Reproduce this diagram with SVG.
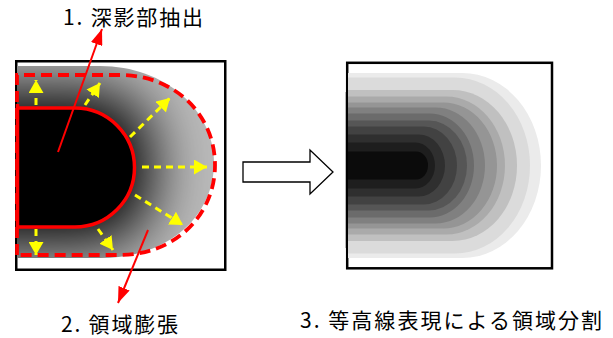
<svg xmlns="http://www.w3.org/2000/svg" width="613" height="338" viewBox="0 0 613 338">
  <style>
    .frame { fill: #ffffff; stroke: #000000; stroke-width: 2.5; }
    .label { font-family: "Noto Sans CJK JP", "Noto Sans", sans-serif; font-size: 21px; fill: #000000; }
    .red-solid { fill: none; stroke: #ff0000; stroke-width: 3.5; stroke-linejoin: round; }
    .red-dash { fill: none; stroke: #ff0000; stroke-width: 3.8; stroke-dasharray: 11 6; }
    .yellow { fill: none; stroke: #ffff00; stroke-width: 3; stroke-dasharray: 7 5; marker-end: url(#yhead); }
    .red-arrow { fill: none; stroke: #ff0000; stroke-width: 2; marker-end: url(#rhead); }
  </style>
  <defs>
    <marker id="yhead" markerUnits="userSpaceOnUse" viewBox="0 0 14 15" markerWidth="14" markerHeight="15" refX="13" refY="7.5" orient="auto">
      <path d="M0,0 L13,7.5 L0,15 Z" fill="#ffff00"/>
    </marker>
    <marker id="rhead" markerUnits="userSpaceOnUse" viewBox="0 0 16 12" markerWidth="16" markerHeight="12" refX="16" refY="6" orient="auto">
      <path d="M0,0 L16,6 L0,12 Z" fill="#ff0000"/>
    </marker>
    <clipPath id="halo-clip">
      <path d="M17,66 H100 C165,66 214,110 214,163 C214,215 170,258 100,258 H17 Z"/>
    </clipPath>
    <filter id="soften" x="-60%" y="-60%" width="220%" height="220%">
      <feMorphology operator="dilate" radius="18"/>
      <feGaussianBlur stdDeviation="30"/>
    </filter>
  </defs>

  <!-- Panel 1: dark core and its expanded halo -->
  <g id="shadow-panel">
    <rect class="frame" x="16.25" y="61.25" width="209" height="208.5"/>
    <g clip-path="url(#halo-clip)">
      <rect x="17" y="60" width="200" height="205" fill="#bababa"/>
      <path d="M-60,108 H75 A59.5,59.5 0 0 1 75,227 H-60 Z" fill="#000000" filter="url(#soften)"/>
    </g>
    <path d="M17,108 H75 A59.5,59.5 0 0 1 75,227 H17 Z" fill="#000000"/>
    <path class="red-dash" d="M17,255 V75 H120 C175,75 215,115 215,165 C215,215 175,255 120,255 H17"/>
    <path class="red-solid" d="M17.5,104 V227 H75 A59.5,59.5 0 0 0 75,108 H17.5"/>
  </g>

  <!-- Panel 2: contour bands -->
  <g id="contour-panel">
    <rect class="frame" x="347.2" y="62.8" width="204.8" height="205.5"/>
    <line x1="345.5" y1="92" x2="345.5" y2="248" stroke="#b8b8b8" stroke-width="1"/>
    <path fill="#ebebeb" d="M348,73 H462.4 A78.6,92.5 0 0 1 462.4,258 H348 Z"/>
    <path fill="#dbdbdb" d="M348,77.5 H455.2 A74.8,88 0 0 1 455.2,253.5 H348 Z"/>
    <path fill="#c0c0c0" d="M348,90 H452.8 A64.2,75.5 0 0 1 452.8,241 H348 Z"/>
    <path fill="#aaaaaa" d="M348,96.5 H446.3 A58.7,69 0 0 1 446.3,234.5 H348 Z"/>
    <path fill="#959595" d="M348,102.5 H443.4 A53.6,63 0 0 1 443.4,228.5 H348 Z"/>
    <path fill="#808080" d="M348,107.5 H435.7 A49.3,58 0 0 1 435.7,223.5 H348 Z"/>
    <path fill="#6b6b6b" d="M348,113.5 H429.8 A44.2,52 0 0 1 429.8,217.5 H348 Z"/>
    <path fill="#565656" d="M348,120.5 H428.7 A38.3,45 0 0 1 428.7,210.5 H348 Z"/>
    <path fill="#424242" d="M348,126.5 H423.8 A33.2,39 0 0 1 423.8,204.5 H348 Z"/>
    <path fill="#2f2f2f" d="M348,134.5 H418.6 A26.4,31 0 0 1 418.6,196.5 H348 Z"/>
    <path fill="#1e1e1e" d="M348,142.5 H415.4 A19.6,23 0 0 1 415.4,188.5 H348 Z"/>
    <path fill="#0b0b0b" d="M348,151.5 H416.1 A11.9,14 0 0 1 416.1,179.5 H348 Z"/>
  </g>

  <!-- Step labels -->
  <g id="label-extract">
    <text class="label" x="63" y="25" textLength="140" lengthAdjust="spacing">1. 深影部抽出</text>
  </g>
  <g id="label-expand">
    <text class="label" x="61" y="332" textLength="117" lengthAdjust="spacing">2. 領域膨張</text>
  </g>
  <g id="label-split">
    <text class="label" x="300" y="328" textLength="302" lengthAdjust="spacing">3. 等高線表現による領域分割</text>
  </g>

  <!-- Connectors -->
  <g id="connectors">
    <line class="red-arrow" x1="58" y1="152" x2="102" y2="29"/>
    <line class="red-arrow" x1="148" y1="230" x2="118" y2="303"/>
    <line class="yellow" x1="36" y1="105" x2="36" y2="80"/>
    <line class="yellow" x1="85" y1="105" x2="100" y2="83"/>
    <line class="yellow" x1="130" y1="137" x2="170" y2="98"/>
    <line class="yellow" x1="142" y1="167" x2="207" y2="167"/>
    <line class="yellow" x1="135" y1="195" x2="183" y2="225"/>
    <line class="yellow" x1="98" y1="229" x2="113" y2="250"/>
    <line class="yellow" x1="36" y1="229" x2="36" y2="255"/>
    <polygon points="243,162 310,162 310,150 333,172 310,194 310,182 243,182" fill="#ffffff" stroke="#000000" stroke-width="1.3" stroke-linejoin="miter"/>
  </g>
</svg>
